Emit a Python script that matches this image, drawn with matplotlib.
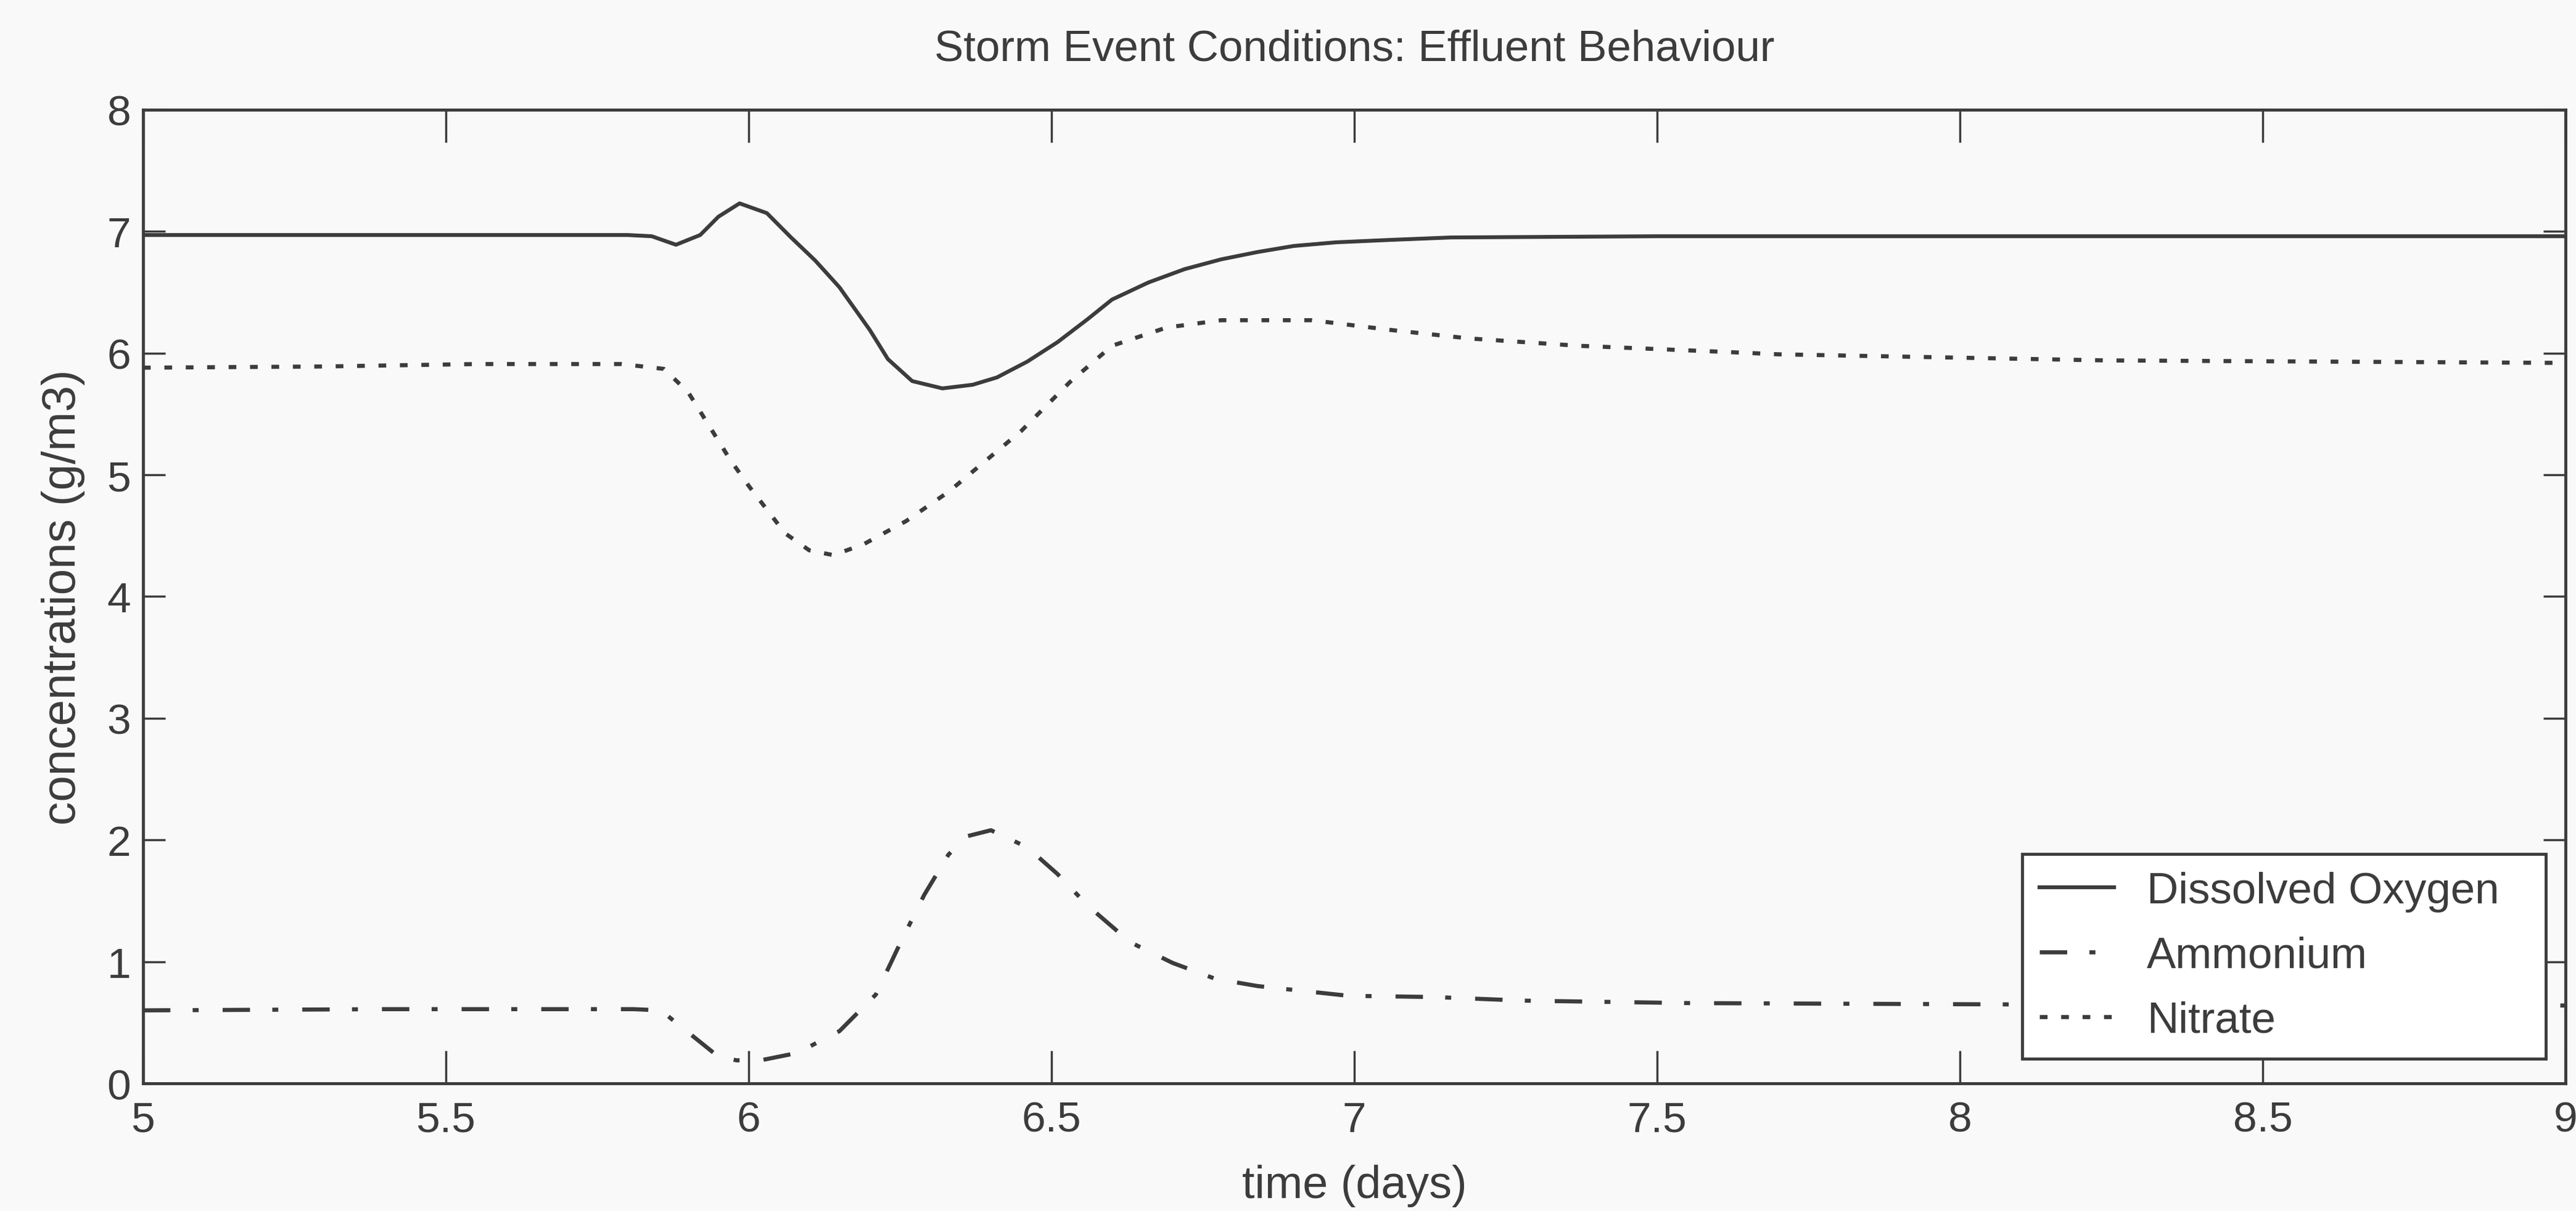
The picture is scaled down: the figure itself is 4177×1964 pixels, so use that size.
import numpy as np
import matplotlib
matplotlib.use("Agg")
import matplotlib.pyplot as plt

matplotlib.rcParams.update({
    'font.family': ['Liberation Sans', 'DejaVu Sans'],
    'lines.scale_dashes': False,
})

ink = "#3c3c3c"
paper = "#f9f9f9"

# time axis (days) and the three effluent concentrations (g/m3)
t_do = [5.0, 5.4, 5.8, 5.84, 5.88, 5.92, 5.95, 5.985, 6.03, 6.07, 6.11, 6.15, 6.2, 6.23,
        6.27, 6.32, 6.37, 6.41, 6.46, 6.51, 6.56, 6.6, 6.66, 6.72, 6.78, 6.84, 6.9,
        6.97, 7.06, 7.16, 7.5, 8.0, 8.5, 9.0]
do = [6.97, 6.97, 6.97, 6.96, 6.89, 6.97, 7.12, 7.23, 7.15, 6.95, 6.76, 6.54, 6.19, 5.95,
      5.77, 5.71, 5.74, 5.80, 5.93, 6.09, 6.28, 6.44, 6.58, 6.69, 6.77, 6.83, 6.88,
      6.91, 6.93, 6.95, 6.96, 6.96, 6.96, 6.96]

t_nh4 = [5.0, 5.4, 5.81, 5.855, 5.9, 5.95, 5.98, 6.02, 6.08, 6.15, 6.21, 6.25, 6.29,
         6.33, 6.36, 6.40, 6.46, 6.51, 6.56, 6.63, 6.70, 6.77, 6.84, 6.99, 7.13, 7.28,
         7.55, 8.04, 8.5, 9.0]
nh4 = [0.60, 0.61, 0.61, 0.60, 0.42, 0.22, 0.19, 0.19, 0.25, 0.43, 0.73, 1.15, 1.55,
       1.88, 2.03, 2.08, 1.94, 1.72, 1.46, 1.16, 0.99, 0.86, 0.80, 0.72, 0.71, 0.68,
       0.66, 0.65, 0.64, 0.64]

t_no3 = [5.0, 5.3, 5.55, 5.79, 5.86, 5.9, 5.97, 6.0, 6.06, 6.1, 6.14, 6.19, 6.26, 6.33,
         6.45, 6.53, 6.6, 6.69, 6.78, 6.93, 7.06, 7.19, 7.37, 7.61, 7.7, 8.24, 8.97, 9.0]
no3 = [5.88, 5.89, 5.91, 5.91, 5.87, 5.68, 5.12, 4.91, 4.52, 4.38, 4.34, 4.43, 4.62, 4.86,
       5.36, 5.76, 6.06, 6.21, 6.27, 6.27, 6.19, 6.12, 6.06, 6.01, 5.99, 5.94, 5.92, 5.92]

xticks = [5, 5.5, 6, 6.5, 7, 7.5, 8, 8.5, 9]
xticklabels = ["5", "5.5", "6", "6.5", "7", "7.5", "8", "8.5", "9"]
yticks = [0, 1, 2, 3, 4, 5, 6, 7, 8]

fig = plt.figure(figsize=(41.77, 19.65), dpi=100, facecolor=paper)
ax = fig.add_axes([0.0555, 0.1053, 0.9405, 0.8037], facecolor=paper)

ax.plot(t_do, do, color=ink, lw=4.5, label="Dissolved Oxygen")
ax.plot(t_nh4, nh4, color=ink, lw=4.8, dashes=(32, 26, 7, 28), label="Ammonium")
ax.plot(t_no3, no3, color=ink, lw=4.8, dashes=(9, 16), label="Nitrate")

ax.set_xlim(5, 9)
ax.set_ylim(0, 8)
ax.set_xticks(xticks)
ax.set_xticklabels(xticklabels)
ax.set_yticks(yticks)

for s in ax.spines.values():
    s.set_color(ink)
    s.set_linewidth(3.5)
ax.tick_params(direction="in", width=2.5, color=ink, labelcolor=ink,
               labelsize=50, top=True, right=True)
ax.tick_params(axis="x", length=38, pad=20)
ax.tick_params(axis="y", length=26, pad=14)

ax.set_title("Storm Event Conditions: Effluent Behaviour", fontsize=51, color=ink, pad=58)
ax.set_xlabel("time (days)", fontsize=53, color=ink, labelpad=28)
ax.set_ylabel("concentrations (g/m3)", fontsize=55, color=ink, labelpad=26)

leg = ax.legend(loc="lower left", bbox_to_anchor=(0.7757, 0.0253, 0.2162, 0.2),
                mode="expand", borderaxespad=0,
                fontsize=51, fancybox=False, framealpha=1, edgecolor=ink,
                handlelength=1.7, handletextpad=0.75, labelspacing=0.55,
                borderpad=0.4)
leg.get_frame().set_linewidth(3.5)
leg.get_frame().set_facecolor("white")
for txt in leg.get_texts():
    txt.set_color(ink)

fig.savefig("out.png", dpi=100, facecolor=paper)
